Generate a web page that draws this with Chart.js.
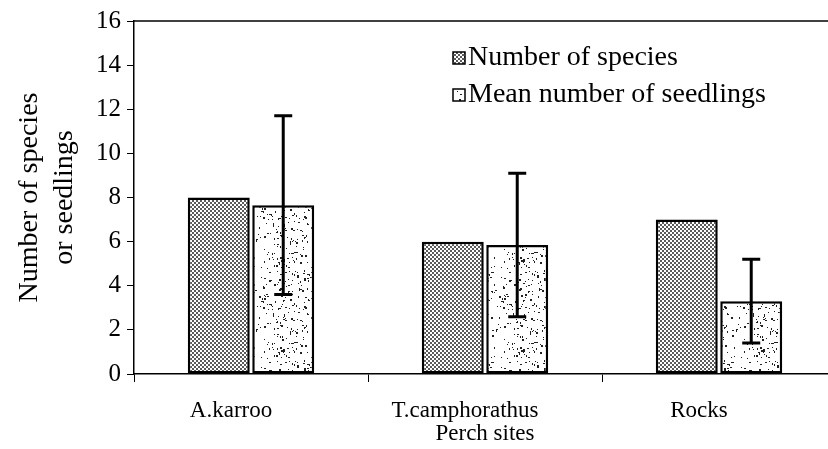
<!DOCTYPE html>
<html>
<head>
<meta charset="utf-8">
<script src="https://cdn.jsdelivr.net/npm/chart.js@4.4.1/dist/chart.umd.min.js"></script>
<style>
  html, body { margin: 0; padding: 0; background: #fff; overflow: hidden; }
  #wrap { width: 828px; height: 449px; overflow: hidden; }
</style>
</head>
<body>
<div id="wrap"><canvas id="myChart" width="840" height="449"></canvas></div>
<script>
// data
const sites = ['A.karroo', 'T.camphorathus', 'Rocks'];
const speciesCount = [8, 6, 7];
const meanSeedlings = [7.65, 5.85, 3.3];
const seedlingsErr = [4.05, 3.25, 1.9];
const yTicks = [0, 2, 4, 6, 8, 10, 12, 14, 16];

const serif = '"Liberation Serif", "Times New Roman", serif';

// fine dot screen for the species bars
function dotPattern() {
  const c = document.createElement('canvas');
  c.width = 4; c.height = 4;
  const g = c.getContext('2d');
  g.fillStyle = '#fff';
  g.fillRect(0, 0, 4, 4);
  g.fillStyle = '#5a5a5a';
  g.fillRect(0, 0, 2, 2);
  g.fillRect(2, 2, 2, 2);
  return g.createPattern(c, 'repeat');
}

// white with scattered specks for the seedling bars
function speckPattern() {
  const c = document.createElement('canvas');
  c.width = 60; c.height = 90;
  const g = c.getContext('2d');
  g.fillStyle = '#fff';
  g.fillRect(0, 0, 60, 90);
  g.fillStyle = '#222';
  let s = 7;
  const next = () => (s = (s * 16807) % 2147483647) / 2147483647;
  for (let i = 0; i < 230; i++) {
    const x = next() * 60, y = next() * 90;
    const w = next() < 0.3 ? 2 : 1;
    g.fillRect(Math.floor(x), Math.floor(y), w, next() < 0.4 ? 2 : 1);
  }
  return g.createPattern(c, 'repeat');
}

const canvas = document.getElementById('myChart');
const fillSpecies = dotPattern();
const fillSeedlings = speckPattern();

const extras = {
  id: 'extras',
  afterDatasetsDraw(chart) {
    const ctx = chart.ctx;
    const y = chart.scales.y;
    const area = chart.chartArea;
    ctx.save();
    // error bars on the seedling bars
    ctx.strokeStyle = '#000';
    ctx.lineWidth = 3;
    chart.getDatasetMeta(1).data.forEach((bar, i) => {
      const v = meanSeedlings[i], e = seedlingsErr[i];
      const top = y.getPixelForValue(v + e);
      const bot = y.getPixelForValue(v - e);
      ctx.beginPath();
      ctx.moveTo(bar.x, top); ctx.lineTo(bar.x, bot);
      ctx.moveTo(bar.x - 9, top); ctx.lineTo(bar.x + 9, top);
      ctx.moveTo(bar.x - 9, bot); ctx.lineTo(bar.x + 9, bot);
      ctx.stroke();
    });
    // top frame line
    ctx.lineWidth = 1.5;
    ctx.beginPath();
    ctx.moveTo(area.left, area.top);
    ctx.lineTo(area.right, area.top);
    ctx.stroke();
    // legend
    ctx.font = '28px ' + serif;
    ctx.textBaseline = 'middle';
    chart.data.datasets.forEach((ds, i) => {
      const ly = 58 + i * 37;
      ctx.fillStyle = ds.backgroundColor;
      ctx.fillRect(453, ly - 6, 12, 12);
      ctx.lineWidth = 1.5;
      ctx.strokeRect(453, ly - 6, 12, 12);
      ctx.fillStyle = '#000';
      ctx.fillText(ds.label, 468, ly);
    });
    // y axis title, two lines
    const cy = (area.top + area.bottom) / 2;
    ctx.translate(0, cy);
    ctx.rotate(-Math.PI / 2);
    ctx.textAlign = 'center';
    ctx.textBaseline = 'alphabetic';
    ctx.fillText('Number of species', 0, 37);
    ctx.fillText('or seedlings', 0, 72);
    ctx.restore();
  }
};

new Chart(canvas, {
  type: 'bar',
  data: {
    labels: sites,
    datasets: [
      {
        label: 'Number of species',
        data: speciesCount,
        backgroundColor: fillSpecies,
        borderColor: '#000',
        borderWidth: 2.5,
        borderSkipped: false
      },
      {
        label: 'Mean number of seedlings',
        data: meanSeedlings,
        backgroundColor: fillSeedlings,
        borderColor: '#000',
        borderWidth: 2.5,
        borderSkipped: false
      }
    ]
  },
  options: {
    responsive: false,
    animation: false,
    devicePixelRatio: 1,
    layout: { padding: { top: 20, right: 4, left: 0, bottom: 0 } },
    categoryPercentage: 0.551,
    barPercentage: 0.961,
    plugins: {
      legend: { display: false },
      tooltip: { enabled: false }
    },
    scales: {
      x: {
        afterFit(scale) { scale.height = 75; },
        grid: { offset: true, drawOnChartArea: false, drawTicks: true, tickLength: 8, color: '#000', lineWidth: 1 },
        border: { display: true, color: '#000', width: 1.5 },
        ticks: { color: '#000', font: { family: serif, size: 23 }, padding: 15, labelOffset: -20, maxRotation: 0 },
        title: { display: true, text: 'Perch sites', color: '#000', font: { family: serif, size: 23 }, padding: { top: 0, bottom: 1 } }
      },
      y: {
        min: 0,
        max: 16,
        afterFit(scale) { scale.width = 134; },
        afterBuildTicks(scale) { scale.ticks = yTicks.map(v => ({ value: v })); },
        grid: { drawOnChartArea: false, drawTicks: true, tickLength: 7, color: '#000', lineWidth: 1 },
        border: { display: true, color: '#000', width: 1.5 },
        ticks: { color: '#000', font: { family: serif, size: 25 }, padding: 6 }
      }
    }
  },
  plugins: [extras]
});
</script>
</body>
</html>
